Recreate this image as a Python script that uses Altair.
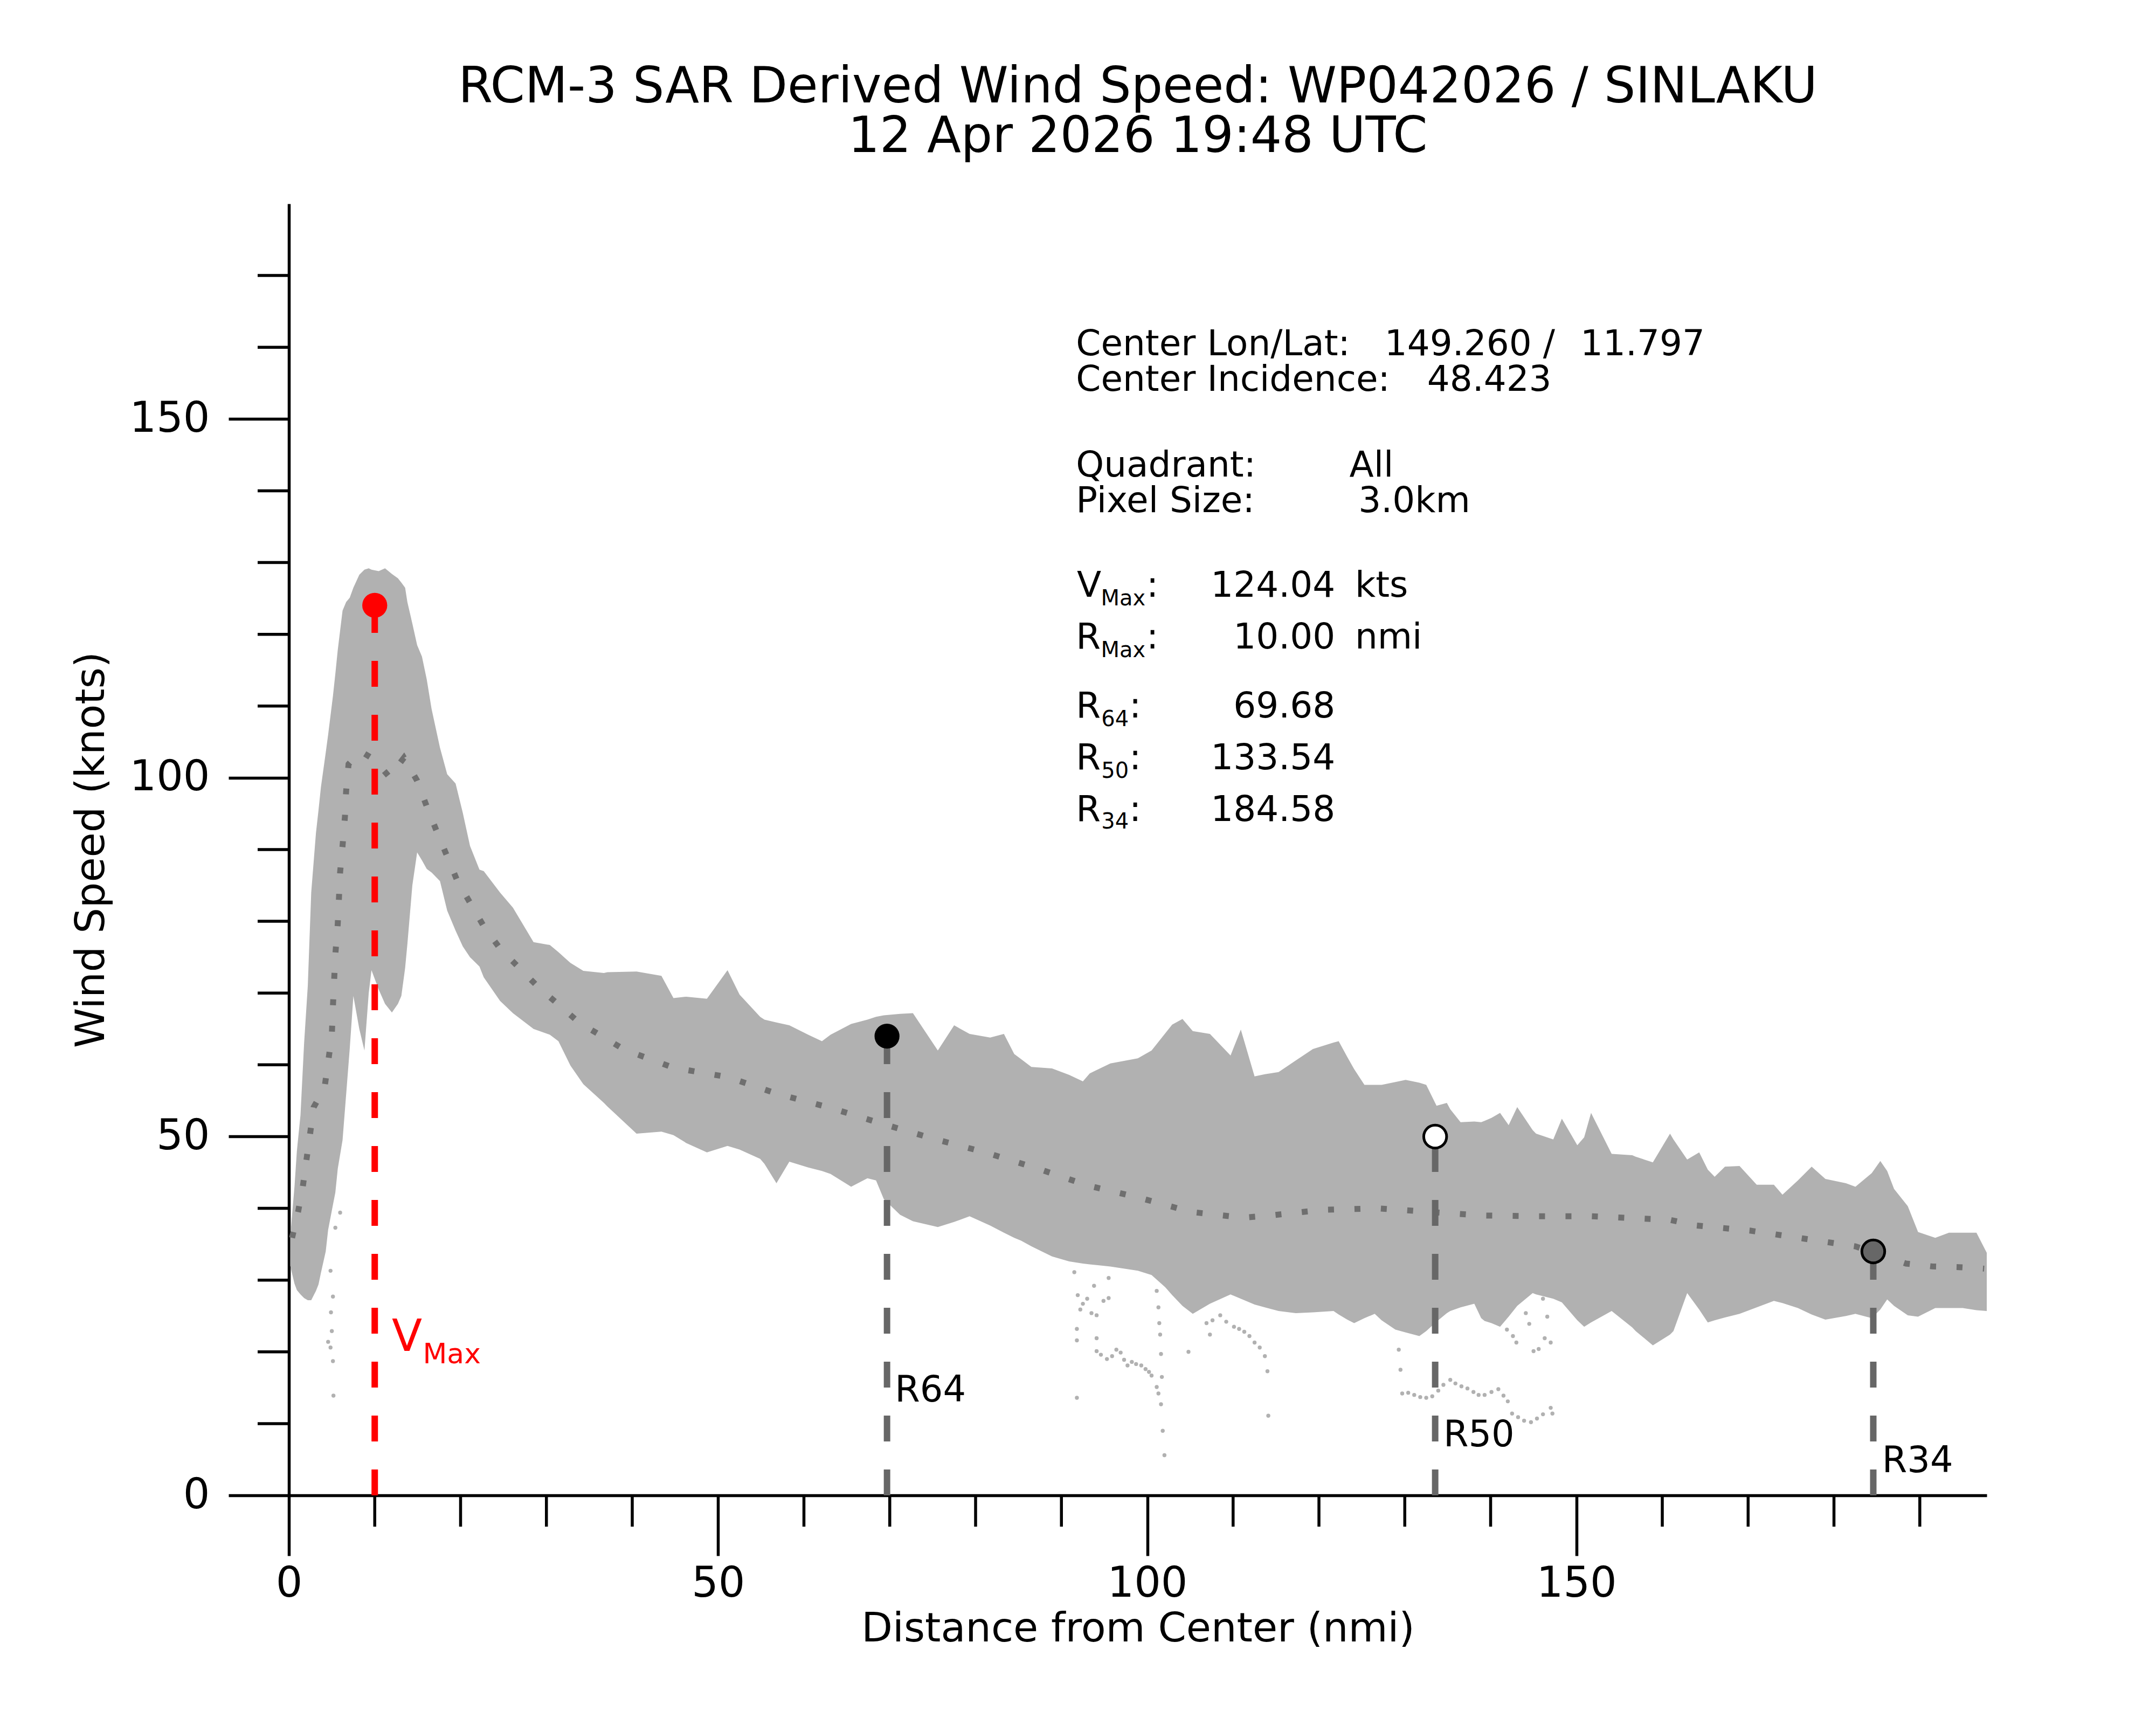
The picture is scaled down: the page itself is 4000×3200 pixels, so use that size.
import altair as alt
import pandas as pd

FONT = "DejaVu Sans"

# ---------------- data ----------------
# envelope of the SAR wind-speed scatter (upper / lower edge at each distance)
band_x = [0.15, 0.65, 0.93, 1.35, 1.77, 2.2, 2.6, 3.15, 3.45, 3.73,
          4.29, 4.57, 5.13, 5.41, 5.69, 6.25, 6.67, 7.09, 7.51, 8.2,
          8.8, 9.3, 9.62, 10.46, 11.2, 12.0, 12.7, 13.1, 13.54, 13.8,
          14.38, 14.94, 15.5, 16.06, 16.62, 17.6, 18.44, 19.42, 20.26, 21.1,
          22.2, 22.7, 24.6, 26.1, 28.5, 30.4, 31.4, 32.8, 34.3, 36.7,
          37.1, 40.5, 43.4, 44.8, 46.3, 48.7, 51.1, 52.5, 54.9, 55.4,
          56.8, 58.3, 60.5, 62.1, 63.1, 65.5, 67.4, 68.4, 69.3, 71.2,
          72.7, 75.6, 77.5, 79.3, 81.7, 83.3, 84.5, 85.3, 86.5, 88.9,
          90.9, 92.5, 93.3, 95.7, 98.9, 100.5, 102.1, 102.9, 104.1, 105.3,
          107.3, 109.7, 110.9, 112.5, 113.7, 115.3, 117.3, 119.3, 121.7, 122.3,
          123.3, 124.1, 125.3, 126.5, 127.3, 128.9, 130.1, 131.7, 132.5, 133.7,
          134.9, 135.3, 136.5, 138.1, 138.9, 139.3, 140.1, 141.1, 142.1, 143.1,
          144.9, 145.3, 147.3, 148.3, 150.1, 150.9, 151.7, 154.1, 156.5, 156.9,
          158.9, 160.9, 161.3, 162.9, 164.3, 165.3, 166.1, 167.3, 169.0, 171.0,
          173.0, 174.0, 175.8, 177.4, 179.0, 181.4, 182.5, 184.4, 185.4, 186.2,
          187.0, 188.6, 189.8, 191.8, 193.4, 195.0, 196.6, 197.8]
band_upper = [36, 43, 48, 53, 63, 71, 84, 92.3, 95.5, 98.7,
              103.5, 106, 111.4, 114.5, 117.8, 123.3, 124.5, 125.1, 126.5, 128.3,
              129, 129.2, 129, 128.8, 129.2, 128.4, 127.8, 127.2, 126.5, 124.5,
              121.5, 118.5, 116.9, 113.7, 109.6, 104.2, 100.5, 99.2, 95.1, 90.5,
              87.2, 87.0, 84.0, 81.9, 77.1, 76.7, 75.7, 74.2, 73.1, 72.8,
              72.9, 73.0, 72.4, 69.3, 69.5, 69.2, 73.2, 69.8, 66.7, 66.3,
              65.9, 65.5, 64.2, 63.3, 64.2, 65.7, 66.3, 66.7, 66.9, 67.1,
              67.2, 62.0, 65.5, 64.3, 63.8, 64.3, 61.5, 60.8, 59.7, 59.5,
              58.6, 57.7, 58.8, 60.2, 60.9, 62.0, 64.4, 65.6, 66.4, 64.7,
              64.3, 61.3, 64.9, 58.4, 58.7, 59.0, 60.6, 62.2, 63.1, 63.3,
              61.1, 59.4, 57.2, 57.2, 57.2, 57.6, 57.9, 57.5, 57.2, 54.3,
              54.7, 53.8, 52.0, 52.1, 52.0, 52.2, 52.6, 53.3, 51.6, 54.1,
              50.9, 50.4, 49.6, 52.5, 48.8, 49.9, 53.3, 47.6, 47.4, 47.2,
              46.4, 50.4, 49.6, 46.8, 47.8, 45.4, 44.4, 45.8, 45.9, 43.3,
              43.3, 41.9, 43.9, 45.8, 44.1, 43.5, 43.0, 44.9, 46.6, 45.2,
              42.7, 40.3, 36.7, 35.9, 36.6, 36.6, 36.6, 33.8]
band_lower = [32, 29.5, 28.6, 28, 27.5, 27.2, 27.2, 28.5, 29.4, 31,
              34, 37, 40.5, 42.2, 45.5, 49.5, 55.9, 62.3, 69.6, 65,
              62, 70, 73.2, 70.5, 68.5, 67.3, 68.5, 69.6, 73.5, 76.8,
              85, 89.6, 88.5, 87.3, 86.8, 85.6, 81.5, 78.7, 76.5, 75,
              73.7, 72.2, 68.9, 67.2, 65.0, 64.2, 63.3, 59.9, 57.3, 54.7,
              54.2, 50.4, 50.7, 50.2, 49.1, 47.8, 48.7, 48.2, 46.9, 46.2,
              43.5, 46.5, 45.7, 45.2, 44.8, 43.0, 44.2, 43.9, 41.3, 39.1,
              38.2, 37.4, 38.1, 38.9, 37.6, 36.6, 35.9, 35.5, 34.7, 33.3,
              32.6, 32.3, 32.2, 31.9, 31.3, 30.7, 29.0, 27.9, 26.4, 25.3,
              26.7, 28.0, 27.4, 26.6, 26.2, 25.7, 25.4, 25.5, 25.7, 25.2,
              24.5, 24.0, 24.7, 25.3, 24.4, 23.1, 22.7, 22.2, 22.9, 24.2,
              25.4, 25.7, 26.2, 26.7, 24.7, 24.3, 24.0, 23.5, 24.9, 26.4,
              28.2, 28.0, 27.4, 26.9, 24.4, 23.5, 24.1, 25.7, 23.4, 22.9,
              20.9, 22.4, 22.9, 28.2, 25.9, 24.1, 24.4, 24.8, 25.3, 26.2,
              27.1, 26.8, 26.1, 25.2, 24.5, 25.0, 25.3, 24.7, 25.9, 27.3,
              26.4, 25.1, 24.9, 26.1, 26.1, 26.1, 25.8, 25.7]

# isolated low-wind pixels below the main cloud
out_x = [4.85, 5.13, 5.0, 4.85, 4.57, 5.13, 5.19, 5.41, 5.97, 4.9,
         91.5, 93.8, 95.5, 91.9, 92.5, 93.5, 94.1, 94.9, 95.5, 92.2, 93.0,
         91.8, 91.8, 91.8, 94.1,
         94.1, 94.6, 95.3, 95.9, 96.4, 96.9, 97.3, 97.7, 98.2, 98.7, 99.3,
         99.8, 100.2, 100.5, 101.1, 101.3, 101.6, 101.8, 102.0,
         101.1, 101.3, 101.4, 101.5, 101.6, 101.7, 104.8,
         106.9, 107.3, 107.6, 108.5, 109.2, 110.1, 110.7, 111.3, 111.9, 112.5,
         113.1, 113.7, 114.0, 114.1,
         129.3, 129.5, 129.7, 130.4, 131.1, 131.8, 132.5, 133.2, 133.9, 134.5,
         135.3, 135.9, 136.6, 137.3, 138.0, 138.6, 139.3, 140.1, 140.9, 141.5,
         142.0, 142.5, 143.2, 143.9, 144.7, 145.4, 146.1, 147.0, 147.2,
         141.9, 142.6, 143.0, 144.1, 144.5, 145.0, 145.6, 146.1, 146.3, 147.0, 146.6]
out_y = [31.3, 27.7, 22.9, 20.6, 21.4, 18.7, 13.9, 37.3, 39.4, 25.5,
         31.1, 29.2, 30.3, 27.9, 26.7, 25.4, 25.1, 27.1, 27.5, 25.9, 27.4,
         23.2, 21.6, 13.6, 21.9,
         20.1, 19.6, 19.0, 19.4, 20.3, 19.9, 18.9, 18.1, 18.6, 18.3, 18.1,
         17.6, 17.2, 16.7, 15.1, 14.2, 12.7, 9.0, 5.6,
         28.5, 26.2, 24.0, 22.4, 19.7, 16.5, 20.0,
         24.0, 22.4, 24.4, 25.1, 24.2, 23.5, 23.2, 22.8, 22.2, 21.3,
         20.6, 19.4, 17.3, 11.1,
         20.3, 17.5, 14.2, 14.3, 14.0, 13.7, 13.6, 13.8, 14.6, 15.4,
         16.1, 15.6, 15.2, 14.9, 14.4, 14.0, 14.0, 14.4, 14.8, 13.9,
         13.1, 11.4, 10.9, 10.4, 10.2, 10.7, 11.3, 12.2, 11.4,
         23.1, 22.2, 21.3, 25.4, 23.9, 20.1, 20.4, 27.4, 21.9, 21.3, 24.9]

# binned mean wind profile (dotted line)
mean_x = [0.37, 1.07, 1.63, 2.05, 2.47, 2.89, 4.15, 4.57, 5.0, 5.13,
          5.27, 5.41, 5.69, 5.83, 5.97, 6.25, 6.53, 6.67, 6.95, 8.35,
          10.0, 11.71, 13.4, 14.94, 16.06, 17.2, 19.6, 22.7, 24.6, 29.0,
          33.8, 39.1, 44.8, 51.1, 56.8, 63.1, 68.8, 75.1, 81.1, 87.1,
          93.0, 99.0, 105.1, 108.1, 111.2, 114.3, 120.5, 126.8, 132.9, 139.2,
          145.4, 151.7, 160.9, 164.0, 170.2, 176.4, 182.5, 188.4, 191.5, 194.6,
          197.5]
mean_y = [35.9, 39.5, 43.1, 46.8, 50.4, 54.1, 56.8, 60.4, 64.1, 68.2,
          71.8, 75.4, 79.6, 83.2, 86.9, 90.5, 94.6, 98.2, 101.9, 103.7,
          102.5, 100.1, 102.8, 99.6, 96.0, 92.6, 85.7, 79.3, 76.2, 70.9,
          65.9, 62.1, 59.6, 58.3, 56.0, 54.0, 51.9, 49.7, 47.8, 45.6,
          43.2, 41.5, 39.5, 39.1, 38.7, 39.0, 39.8, 40.0, 39.5, 39.0,
          38.9, 38.9, 38.4, 37.6, 36.9, 35.8, 34.7, 32.3, 31.9, 31.8,
          31.6]

# radii / wind thresholds
radii_x = [10.00, 69.68, 133.54, 184.58]
radii_v = [124.04, 64.0, 50.0, 34.0]
line_colors = ["#ff0000", "#676767", "#676767", "#676767"]
marker_fill = ["#ff0000", "#000000", "#ffffff", "#676767"]
marker_stroke = ["#ff0000", "#000000", "#000000", "#000000"]
marker_sw = [0, 0, 5, 5]
marker_size = [2150, 2150, 1800, 1800]

radius_labels = ["R64", "R50", "R34"]
radius_label_x = [70.6, 134.5, 185.6]
radius_label_y = [13.1, 6.8, 3.2]

# info block text
info_text = ["Center Lon/Lat:", "149.260 /", "11.797",
             "Center Incidence:", "48.423",
             "Quadrant:", "All",
             "Pixel Size:", "3.0km",
             "V", ":", "kts",
             "R", ":", "nmi",
             "R", ":",
             "R", ":",
             "R", ":"]
info_x = [91.7, 127.65, 150.45,
          91.7, 132.6,
          91.7, 123.55,
          91.7, 124.6,
          91.8, 99.9, 124.2,
          91.7, 99.9, 124.2,
          91.7, 97.9,
          91.7, 97.9,
          91.7, 97.9]
info_y = [158.9, 158.9, 158.9,
          153.9, 153.9,
          142.0, 142.0,
          137.0, 137.0,
          125.2, 125.2, 125.2,
          118.0, 118.0, 118.0,
          108.4, 108.4,
          101.2, 101.2,
          94.0, 94.0]
num_text = ["124.04", "10.00", "69.68", "133.54", "184.58"]
num_x = [121.9, 121.9, 121.9, 121.9, 121.9]
num_y = [125.2, 118.0, 108.4, 101.2, 94.0]
sub_text = ["Max", "Max", "64", "50", "34"]
sub_x = [94.6, 94.6, 94.65, 94.65, 94.65]
sub_y = [124.0, 116.8, 107.2, 100.0, 92.9]

x_major = [0, 50, 100, 150]
x_minor = [10, 20, 30, 40, 60, 70, 80, 90, 110, 120, 130, 140, 160, 170, 180, 190]
y_major = [0, 50, 100, 150]
y_minor = [10, 20, 30, 40, 60, 70, 80, 90, 110, 120, 130, 140, 160, 170]

title_lines = ["RCM-3 SAR Derived Wind Speed: WP042026 / SINLAKU",
               "12 Apr 2026 19:48 UTC"]

# ---------------- layout ----------------
W, H = 3150, 2396
XMAX, YMAX = 197.8, 180
xs = alt.Scale(domain=[0, XMAX], nice=False, zero=False)
ys = alt.Scale(domain=[0, YMAX], nice=False, zero=False)

xaxis = alt.Axis(values=x_major, format="d", tickSize=112, tickWidth=5.5, tickColor="black",
                 domainColor="black", domainWidth=5.5, grid=False,
                 labelFont=FONT, labelFontSize=78, labelColor="black", labelPadding=13,
                 labelFlush=False, labelOverlap=False,
                 title="Distance from Center (nmi)", titleFont=FONT, titleFontSize=75,
                 titleFontWeight="normal", titleColor="black", titleX=W / 2, titleY=270,
                 titleBaseline="alphabetic", titleAlign="center")
yaxis = alt.Axis(values=y_major, format="d", tickSize=112, tickWidth=5.5, tickColor="black",
                 domainColor="black", domainWidth=5.5, grid=False,
                 labelFont=FONT, labelFontSize=78, labelColor="black", labelPadding=35,
                 labelFlush=False, labelOverlap=False,
                 title="Wind Speed (knots)", titleFont=FONT, titleFontSize=75,
                 titleFontWeight="normal", titleColor="black", titleX=-344, titleY=H / 2,
                 titleAngle=270, titleBaseline="alphabetic", titleAlign="center")


def X(field):
    return alt.X(field, scale=xs, axis=xaxis)


def Y(field):
    return alt.Y(field, scale=ys, axis=yaxis)


band_df = pd.DataFrame({"x": band_x, "upper": band_upper, "lower": band_lower})
band = alt.Chart(band_df).mark_area(color="#b1b1b1", opacity=1, interpolate="linear").encode(
    x=X("x:Q"), y=Y("upper:Q"), y2="lower:Q")

out_df = pd.DataFrame({"x": out_x, "y": out_y})
outliers = alt.Chart(out_df).mark_circle(color="#b1b1b1", size=55, opacity=1).encode(
    x=X("x:Q"), y=Y("y:Q"))

mean_df = pd.DataFrame({"x": mean_x, "y": mean_y})
mean_line = alt.Chart(mean_df).mark_line(color="#6f6f6f", strokeWidth=11, strokeDash=[11, 38],
                                          strokeCap="butt").encode(x=X("x:Q"), y=Y("y:Q"))

vl_df = pd.DataFrame({"x": radii_x, "y0": [0] * 4, "ytop": radii_v, "c": line_colors})
vlines = alt.Chart(vl_df).mark_rule(strokeWidth=12, strokeDash=[48, 52], strokeCap="butt").encode(
    x=X("x:Q"), y=Y("y0:Q"), y2="ytop:Q", color=alt.Color("c:N", scale=None))

mk_df = pd.DataFrame({"x": radii_x, "y": radii_v, "f": marker_fill, "s": marker_stroke,
                      "sw": marker_sw, "sz": marker_size})
markers = alt.Chart(mk_df).mark_point(filled=True, shape="circle", opacity=1).encode(
    x=X("x:Q"), y=Y("y:Q"),
    fill=alt.Fill("f:N", scale=None), stroke=alt.Stroke("s:N", scale=None),
    strokeWidth=alt.StrokeWidth("sw:Q", scale=None), size=alt.Size("sz:Q", scale=None))


def text_layer(texts, xv, yv, size, color="black", align="left"):
    df = pd.DataFrame({"t": texts, "x": xv, "y": yv})
    return alt.Chart(df).mark_text(align=align, baseline="alphabetic", font=FONT,
                                   fontSize=size, color=color).encode(
        x=X("x:Q"), y=Y("y:Q"), text="t:N")


info_main = text_layer(info_text, info_x, info_y, 66)
info_nums = text_layer(num_text, num_x, num_y, 66, align="right")
info_sub = text_layer(sub_text, sub_x, sub_y, 40)
r_labels = text_layer(radius_labels, radius_label_x, radius_label_y, 67)
vmax_v = text_layer(["V"], [12.0], [20.1], 82, color="#ff0000")
vmax_sub = text_layer(["Max"], [15.6], [18.4], 52, color="#ff0000")

xminor = alt.Chart(pd.DataFrame({"v": x_minor})).mark_rule(color="black", strokeWidth=5.5).encode(
    x=X("v:Q"), y=alt.value(H), y2=alt.value(H + 58))
yminor = alt.Chart(pd.DataFrame({"v": y_minor})).mark_rule(color="black", strokeWidth=5.5).encode(
    y=Y("v:Q"), x=alt.value(-58), x2=alt.value(0))

chart = alt.layer(
    band, outliers, mean_line, vlines, markers,
    info_main, info_nums, info_sub, r_labels, vmax_v, vmax_sub,
    xminor, yminor,
).properties(
    width=W, height=H,
    autosize=alt.AutoSizeParams(type="none"),
    padding={"left": 528, "top": 370, "right": 306, "bottom": 410},
    background="white",
    title=alt.TitleParams(text=title_lines, font=FONT, fontSize=92, fontWeight="normal",
                          color="black", anchor="middle", frame="group", offset=-15,
                          lineHeight=92, baseline="bottom"),
).configure_view(stroke=None)

chart.save("out.html", embed_options={"renderer": "svg", "actions": False})
